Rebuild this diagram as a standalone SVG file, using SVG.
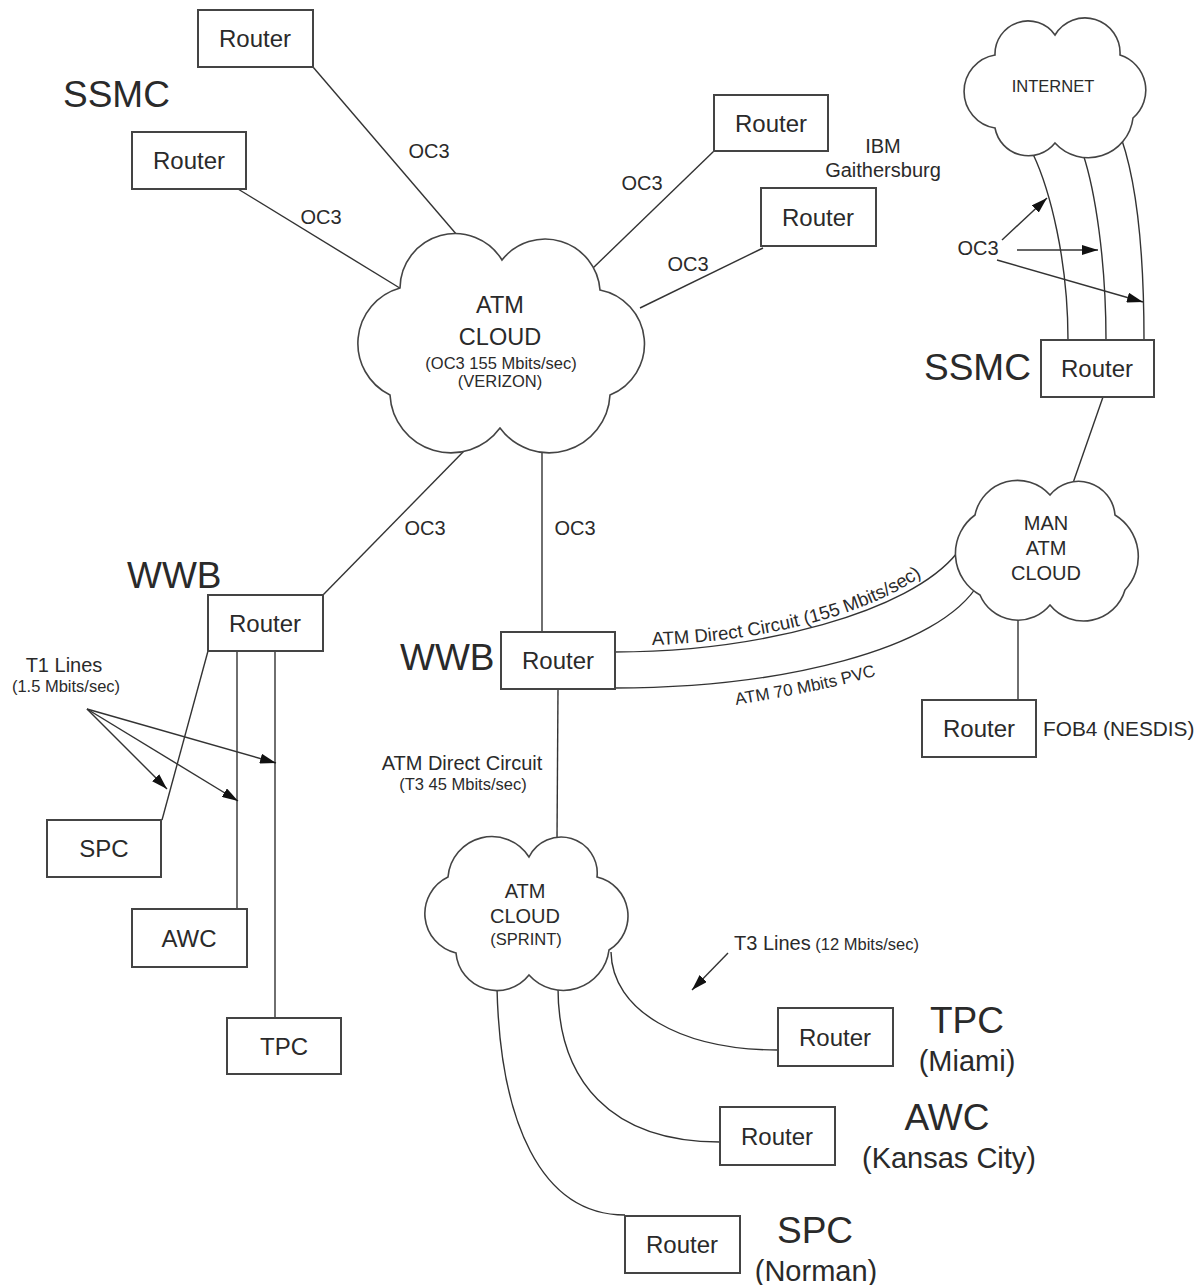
<svg xmlns="http://www.w3.org/2000/svg" width="1199" height="1285" viewBox="0 0 1199 1285">
<style>
.bx{fill:#fff;stroke:#444;stroke-width:2}
.cl{fill:#fff;stroke:#444;stroke-width:1.6}
.ln{fill:none;stroke:#333;stroke-width:1.4}
.t{font-family:"Liberation Sans",Arial,sans-serif;fill:#2a2a2a}
.r{font-size:24px;text-anchor:middle}
.big{font-size:37px}
.sub{font-size:29px;text-anchor:middle}
.m{font-size:20px}
.s{font-size:16.5px}
.c{text-anchor:middle}
</style>
<defs>
<marker id="ah" markerUnits="userSpaceOnUse" markerWidth="16" markerHeight="10" refX="16" refY="5" orient="auto">
<path d="M0,0 L16,5 L0,10 z" fill="#111"/>
</marker>
<path id="p1" d="M652,645 C760,642 880,615 938,563"/>
<path id="p2" d="M736,705 C800,694 860,684 908,664"/>
</defs>
<rect width="1199" height="1285" fill="#fff"/>

<g id="connectors">
<line class="ln" x1="313" y1="67" x2="457" y2="235"/>
<line class="ln" x1="238" y1="189" x2="403" y2="290"/>
<line class="ln" x1="714" y1="151" x2="593" y2="268"/>
<line class="ln" x1="763" y1="248" x2="640" y2="308"/>
<line class="ln" x1="465" y1="450" x2="322" y2="596"/>
<line class="ln" x1="542" y1="450" x2="542" y2="632"/>
<path class="ln" d="M1033,154 C1050,190 1068,260 1068,340"/>
<path class="ln" d="M1083,154 C1095,190 1106,260 1106,340"/>
<path class="ln" d="M1117,127 C1135,170 1144,240 1144,340"/>
<line class="ln" x1="1103" y1="397" x2="1073" y2="483"/>
<line class="ln" x1="1018" y1="618" x2="1018" y2="700"/>
<path class="ln" d="M614,652 C760,652 910,612 957,553"/>
<path class="ln" d="M614,688 C780,688 940,650 979,583"/>
<line class="ln" x1="558" y1="689" x2="557" y2="840"/>
<path class="ln" d="M611,952 C612,1010 680,1050 778,1050"/>
<path class="ln" d="M558,988 C558,1080 610,1142 720,1142"/>
<path class="ln" d="M497,988 C500,1120 540,1215 625,1215"/>
<line class="ln" x1="208" y1="651" x2="162" y2="820"/>
<line class="ln" x1="237" y1="651" x2="237" y2="909"/>
<line class="ln" x1="275" y1="651" x2="275" y2="1018"/>
<line class="ln" x1="1002" y1="240" x2="1047" y2="198" marker-end="url(#ah)"/>
<line class="ln" x1="1017" y1="250" x2="1098" y2="250" marker-end="url(#ah)"/>
<line class="ln" x1="997" y1="260" x2="1143" y2="302" marker-end="url(#ah)"/>
<line class="ln" x1="87" y1="709" x2="167" y2="789" marker-end="url(#ah)"/>
<line class="ln" x1="87" y1="709" x2="238" y2="801" marker-end="url(#ah)"/>
<line class="ln" x1="87" y1="709" x2="276" y2="763" marker-end="url(#ah)"/>
<line class="ln" x1="728" y1="953" x2="692" y2="990" marker-end="url(#ah)"/>
<text class="t m c" x="429" y="158">OC3</text>
<text class="t m c" x="321" y="224">OC3</text>
<text class="t m c" x="642" y="190">OC3</text>
<text class="t m c" x="688" y="271">OC3</text>
<text class="t m c" x="425" y="535">OC3</text>
<text class="t m c" x="575" y="535">OC3</text>
<text class="t m c" x="978" y="255">OC3</text>
<text class="t" font-size="18.6"><textPath href="#p1">ATM Direct Circuit (155 Mbits/sec)</textPath></text>
<text class="t" font-size="17"><textPath href="#p2">ATM 70 Mbits PVC</textPath></text>
<text class="t m c" x="462" y="770">ATM Direct Circuit</text>
<text class="t s c" x="463" y="790">(T3 45 Mbits/sec)</text>
<text class="t m c" x="64" y="672">T1 Lines</text>
<text class="t s c" x="66" y="692">(1.5 Mbits/sec)</text>
<text class="t" x="734" y="950"><tspan font-size="20">T3 Lines</tspan><tspan font-size="16.5"> (12 Mbits/sec)</tspan></text>
</g>

<g id="atm-cloud">
<path class="cl" d="M400,288 A55,55 0 0 1 502,260 A55,55 0 0 1 600,290 A55,55 0 0 1 610,395 A61,61 0 0 1 500,428 A61,61 0 0 1 390,395 A57.5,57.5 0 0 1 400,288 Z"/>
<text class="t c" font-size="23.5" x="500" y="313">ATM</text>
<text class="t c" font-size="23.5" x="500" y="345">CLOUD</text>
<text class="t s c" x="501" y="369">(OC3 155 Mbits/sec)</text>
<text class="t s c" x="500" y="387">(VERIZON)</text>
</g>

<g id="internet-cloud">
<path class="cl" d="M995,55 A33,33 0 0 1 1055,35 A35,35 0 0 1 1120,55 A36.8,36.8 0 0 1 1133,118 A45,45 0 0 1 1055,143 A34,34 0 0 1 995,128 A37,37 0 0 1 995,55 Z"/>
<text class="t s c" x="1053" y="92">INTERNET</text>
</g>

<g id="man-cloud">
<path class="cl" d="M975,515 A43.4,43.4 0 0 1 1050,495 A36.6,36.6 0 0 1 1115,515 A48.7,48.7 0 0 1 1125,590 A43.2,43.2 0 0 1 1050,605 A41.3,41.3 0 0 1 980,595 A47.5,47.5 0 0 1 975,515 Z"/>
<text class="t m c" x="1046" y="530">MAN</text>
<text class="t m c" x="1046" y="555">ATM</text>
<text class="t m c" x="1046" y="580">CLOUD</text>
</g>

<g id="sprint-cloud">
<path class="cl" d="M448,877 A44,44 0 0 1 529,857 A36,36 0 0 1 597,877 A40,40 0 0 1 609,950 A46,46 0 0 1 529,975 A41,41 0 0 1 456,953 A40.5,40.5 0 0 1 448,877 Z"/>
<text class="t m c" x="525" y="898">ATM</text>
<text class="t m c" x="525" y="923">CLOUD</text>
<text class="t s c" x="526" y="945">(SPRINT)</text>
</g>

<g id="ssmc-router-1"><rect class="bx" x="198" y="10" width="115" height="57"/><text class="t r" x="255" y="47">Router</text></g>
<g id="ssmc-router-2"><rect class="bx" x="132" y="132" width="114" height="57"/><text class="t r" x="189" y="169">Router</text></g>
<g id="ssmc-label"><text class="t big" x="63" y="107">SSMC</text></g>
<g id="ibm-router-1"><rect class="bx" x="714" y="95" width="114" height="56"/><text class="t r" x="771" y="132">Router</text></g>
<g id="ibm-router-2"><rect class="bx" x="761" y="188" width="115" height="58"/><text class="t r" x="818" y="226">Router</text></g>
<g id="ibm-label"><text class="t m c" x="883" y="153">IBM</text><text class="t m c" x="883" y="177">Gaithersburg</text></g>
<g id="ssmc-router-right"><rect class="bx" x="1041" y="340" width="113" height="57"/><text class="t r" x="1097" y="377">Router</text></g>
<g id="ssmc-right-label"><text class="t big" x="924" y="380">SSMC</text></g>
<g id="fob4-router"><rect class="bx" x="922" y="700" width="114" height="57"/><text class="t r" x="979" y="737">Router</text><text class="t" font-size="20.8" x="1043" y="736">FOB4 (NESDIS)</text></g>
<g id="wwb-router-center"><rect class="bx" x="501" y="632" width="114" height="57"/><text class="t r" x="558" y="669">Router</text><text class="t big" x="400" y="670">WWB</text></g>
<g id="wwb-router-left"><rect class="bx" x="208" y="595" width="115" height="56"/><text class="t r" x="265" y="632">Router</text><text class="t big" x="127" y="588">WWB</text></g>
<g id="spc-box"><rect class="bx" x="47" y="820" width="114" height="57"/><text class="t r" x="104" y="857">SPC</text></g>
<g id="awc-box"><rect class="bx" x="132" y="909" width="115" height="58"/><text class="t r" x="189" y="947">AWC</text></g>
<g id="tpc-box"><rect class="bx" x="227" y="1018" width="114" height="56"/><text class="t r" x="284" y="1055">TPC</text></g>
<g id="tpc-router"><rect class="bx" x="778" y="1008" width="115" height="58"/><text class="t r" x="835" y="1046">Router</text><text class="t big c" x="967" y="1033">TPC</text><text class="t sub" x="967" y="1071">(Miami)</text></g>
<g id="awc-router"><rect class="bx" x="720" y="1107" width="115" height="58"/><text class="t r" x="777" y="1145">Router</text><text class="t big c" x="947" y="1130">AWC</text><text class="t sub" x="949" y="1168">(Kansas City)</text></g>
<g id="spc-router"><rect class="bx" x="625" y="1216" width="115" height="57"/><text class="t r" x="682" y="1253">Router</text><text class="t big c" x="815" y="1243">SPC</text><text class="t sub" x="816" y="1281">(Norman)</text></g>
</svg>
